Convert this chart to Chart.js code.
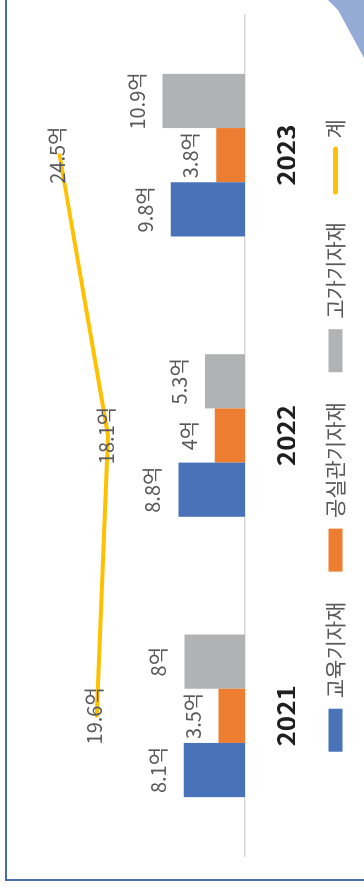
<!DOCTYPE html>
<html lang="ko">
<head>
<meta charset="utf-8">
<script src="https://cdn.jsdelivr.net/npm/chart.js@4.4.1/dist/chart.umd.min.js"></script>
<style>
  html, body { margin: 0; padding: 0; background: #fff; }
  body { width: 364px; height: 890px; position: relative; overflow: hidden; }
  /* outer chart frame, only its left and bottom edges are in view */
  #frame {
    position: absolute; left: 5px; top: -10px; width: 400px; height: 891px;
    box-sizing: border-box;
    border-left: 2px solid #4A6DAA; border-bottom: 2px solid #4A6DAA;
  }
  #corner {
    position: absolute; left: 326px; top: 0; width: 38px; height: 60px;
    background: #95ABD5;
    clip-path: polygon(2px 0, 38px 0, 38px 58px, 12px 10px);
  }
  /* the chart is laid out landscape and turned a quarter to the left */
  #wrap {
    position: absolute; left: 0; top: 0; width: 890px; height: 364px;
    transform-origin: 0 0;
    transform: translate(0, 890px) rotate(-90deg);
  }
</style>
</head>
<body>
<div id="frame"></div>
<div id="corner"></div>
<div id="wrap"><canvas id="chart" width="890" height="364"></canvas></div>
<script>
// ─── DATA ─────────────────────────────────────────────────
const years = ['2021', '2022', '2023'];
const seriesNames = ['교육기자재', '공실관기자재', '고가기자재', '계'];
const eduValues = [8.1, 8.8, 9.8];
const labValues = [3.5, 4, 3.8];
const highValues = [8, 5.3, 10.9];
const totalValues = [19.6, 18.1, 24.5];

const FONT = '"Noto Sans CJK KR", "Noto Sans", sans-serif';
const LABEL_COLOR = '#595959';

// value labels: above each bar, centred on the points of the total line
const valueLabels = {
    id: 'valueLabels',
    afterDatasetsDraw(chart) {
        const ctx = chart.ctx;
        ctx.save();
        ctx.font = '20px ' + FONT;
        ctx.fillStyle = LABEL_COLOR;
        ctx.textAlign = 'center';
        chart.data.datasets.forEach((ds, i) => {
            chart.getDatasetMeta(i).data.forEach((el, j) => {
                const text = ds.data[j] + '억';
                if (ds.type === 'line') {
                    ctx.textBaseline = 'middle';
                    ctx.fillText(text, el.x, el.y - 2);
                } else {
                    ctx.textBaseline = 'alphabetic';
                    ctx.fillText(text, el.x, el.y - 18);
                }
            });
        });
        ctx.restore();
    }
};

new Chart(document.getElementById('chart'), {
    data: {
        labels: years,
        datasets: [
            { type: 'bar', label: seriesNames[0], data: eduValues, backgroundColor: '#4A72B8', pointStyle: 'rect' },
            { type: 'bar', label: seriesNames[1], data: labValues, backgroundColor: '#ED7D31', pointStyle: 'rect' },
            { type: 'bar', label: seriesNames[2], data: highValues, backgroundColor: '#B1B2B3', pointStyle: 'rect' },
            {
                type: 'line', label: seriesNames[3], data: totalValues,
                borderColor: '#FFC000', borderWidth: 4, borderCapStyle: 'round', borderJoinStyle: 'round',
                pointRadius: 0, pointStyle: 'line', tension: 0, fill: false,
            },
        ]
    },
    options: {
        responsive: false, animation: false,
        layout: { padding: { top: 18, left: 34, right: 15, bottom: 8 } },
        datasets: { bar: { categoryPercentage: 0.58, barPercentage: 1 } },
        scales: {
            x: {
                grid: { display: false, drawTicks: false },
                border: { color: '#D9D9D9', width: 1.5 },
                ticks: { font: { family: FONT, size: 26, weight: 'bold', lineHeight: 1 }, color: '#1F1F1F', padding: 28 },
                // year labels sit lower than the axis box Chart.js would reserve
                afterFit(scale) { scale.height = 50; },
            },
            y: { display: false, min: 0, max: 30 },
        },
        plugins: {
            tooltip: { enabled: false },
            legend: {
                position: 'bottom',
                labels: {
                    usePointStyle: true, pointStyleWidth: 43, boxHeight: 14, padding: 30,
                    color: LABEL_COLOR, font: { family: FONT, size: 21 },
                    generateLabels(chart) {
                        const items = Chart.defaults.plugins.legend.labels.generateLabels(chart);
                        items.forEach(it => {
                            if (chart.data.datasets[it.datasetIndex].type === 'line') {
                                it.lineWidth = 5;
                                it.lineCap = 'round';
                                it.strokeStyle = '#FFC000';
                            }
                        });
                        return items;
                    }
                }
            }
        }
    },
    plugins: [valueLabels]
});
</script>
</body>
</html>
